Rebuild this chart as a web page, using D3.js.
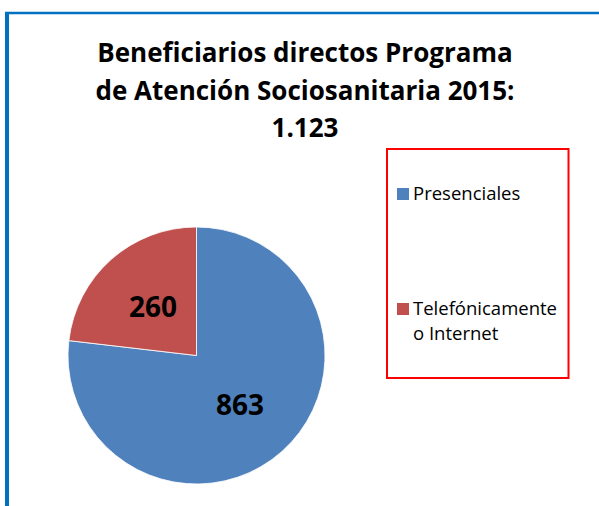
<!DOCTYPE html>
<html>
<head>
<meta charset="utf-8">
<script src="https://cdn.jsdelivr.net/npm/d3@7"></script>
<style>
  body { margin: 0; background: #fff; }
  text { font-family: "Open Sans", Lato, sans-serif; }
</style>
</head>
<body>
<div id="chart"></div>
<script>
// chart data
const categories = ['Presenciales', 'Telefónicamente o Internet'];
const values = [863, 260];
const colors = ['#4f81bd', '#c0504d'];
const titleLines = ['Beneficiarios directos Programa', 'de Atención Sociosanitaria 2015:', '1.123'];
const legendLines = [['Presenciales'], ['Telefónicamente', 'o Internet']];

const dims = {
    'width': 599,
    'height': 506,
    'radius': 128.5,
    'cx': 196.5,
    'cy': 355.5
};

const svg = d3.select('#chart')
                .append('svg')
                .attr('width', dims.width)
                .attr('height', dims.height);

// outer frame (blue top + left edge)
svg.append('line')
    .attr('x1', 5).attr('x2', dims.width)
    .attr('y1', 13).attr('y2', 13)
    .attr('stroke', '#0070c0')
    .attr('stroke-width', 2.5);
svg.append('line')
    .attr('x1', 7).attr('x2', 7)
    .attr('y1', 12).attr('y2', dims.height)
    .attr('stroke', '#0070c0')
    .attr('stroke-width', 4);

// title
svg.append('text')
    .attr('x', 305)
    .attr('y', 62)
    .attr('text-anchor', 'middle')
    .attr('font-size', 26)
    .attr('font-weight', 'bold')
    .attr('fill', '#000')
    .selectAll('tspan')
    .data(titleLines)
    .enter()
    .append('tspan')
    .attr('x', 305)
    .attr('dy', (_, i) => i === 0 ? 0 : 37.5)
    .text(d => d);

// pie
const color = d3.scaleOrdinal().domain(categories).range(colors);
const pie = d3.pie().sort(null).value(d => d.value);
const pieData = pie(categories.map((c, i) => ({name: c, value: values[i]})));

const arc = d3.arc().innerRadius(0).outerRadius(dims.radius);
const labelArc = d3.arc().innerRadius(dims.radius * 0.51).outerRadius(dims.radius * 0.51);

const pieGrp = svg.append('g')
                .attr('class', 'pie-grp')
                .attr('transform', `translate(${dims.cx},${dims.cy})`);

pieGrp.selectAll('.slice')
    .data(pieData)
    .enter()
    .append('path')
    .attr('class', 'slice')
    .attr('d', arc)
    .attr('fill', d => color(d.data.name))
    .attr('stroke', '#ffffff')
    .attr('stroke-width', 0.8);

pieGrp.selectAll('.slice-label')
    .data(pieData)
    .enter()
    .append('text')
    .attr('class', 'slice-label')
    .attr('transform', d => `translate(${labelArc.centroid(d)})`)
    .attr('text-anchor', 'middle')
    .attr('dy', '0.36em')
    .attr('font-size', 28)
    .attr('font-weight', 'bold')
    .attr('fill', '#000')
    .text(d => d3.format('d')(d.data.value));

// legend
svg.append('rect')
    .attr('x', 387)
    .attr('y', 149)
    .attr('width', 181.5)
    .attr('height', 229)
    .attr('fill', 'none')
    .attr('stroke', '#ff0000')
    .attr('stroke-width', 2);

const legendY = d3.scaleOrdinal().domain(categories).range([194, 309]);

const legendItems = svg.selectAll('.legend-item')
    .data(categories)
    .enter()
    .append('g')
    .attr('class', 'legend-item')
    .attr('transform', d => `translate(397,${legendY(d)})`);

legendItems.append('rect')
    .attr('x', 0)
    .attr('y', -6)
    .attr('width', 12)
    .attr('height', 12)
    .attr('fill', d => color(d));

legendItems.append('text')
    .attr('font-size', 18.5)
    .attr('fill', '#000')
    .selectAll('tspan')
    .data((_, i) => legendLines[i])
    .enter()
    .append('tspan')
    .attr('x', 16)
    .attr('y', (_, j) => 6 + j * 24.5)
    .text(d => d);
</script>
</body>
</html>
